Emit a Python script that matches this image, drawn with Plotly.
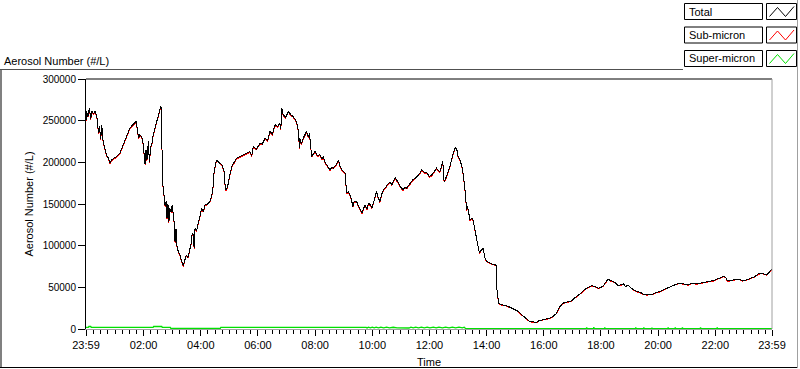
import plotly.graph_objects as go

# ---------------- data ----------------
times = [
    "23:59", "00:00", "00:03", "00:06", "00:09", "00:11", "00:15", "00:18", "00:21", "00:23",
    "00:25", "00:27", "00:30", "00:32", "00:35", "00:38", "00:42", "00:46", "00:49", "00:53",
    "00:56", "01:03", "01:10", "01:15", "01:21", "01:26", "01:31", "01:37", "01:44", "01:47",
    "01:49", "01:52", "01:56", "01:59", "02:01", "02:03", "02:05", "02:07", "02:10", "02:12",
    "02:15", "02:17", "02:20", "02:24", "02:28", "02:31", "02:34", "02:36", "02:38", "02:39",
    "02:41", "02:43", "02:45", "02:47", "02:49", "02:51", "02:53", "02:55", "02:58", "03:00",
    "03:02", "03:04", "03:06", "03:08", "03:10", "03:13", "03:16", "03:20", "03:23", "03:26",
    "03:30", "03:33", "03:37", "03:40", "03:42", "03:44", "03:46", "03:48", "03:51", "03:55",
    "03:58", "04:02", "04:05", "04:09", "04:14", "04:19", "04:22", "04:25", "04:28", "04:31",
    "04:33", "04:38", "04:44", "04:47", "04:49", "04:51", "04:53", "04:56", "04:58", "05:02",
    "05:05", "05:10", "05:15", "05:22", "05:29", "05:36", "05:43", "05:47", "05:50", "05:57",
    "06:04", "06:09", "06:15", "06:20", "06:25", "06:30", "06:36", "06:41", "06:46", "06:48",
    "06:50", "06:53", "06:58", "07:04", "07:09", "07:14", "07:18", "07:21", "07:25", "07:27",
    "07:28", "07:31", "07:35", "07:38", "07:42", "07:46", "07:48", "07:51", "07:53", "07:56",
    "08:00", "08:05", "08:10", "08:14", "08:17", "08:21", "08:24", "08:28", "08:31", "08:35",
    "08:38", "08:44", "08:49", "08:52", "08:56", "09:00", "09:03", "09:06", "09:10", "09:13",
    "09:16", "09:19", "09:22", "09:27", "09:31", "09:34", "09:38", "09:42", "09:45", "09:49",
    "09:52", "09:56", "09:59", "10:04", "10:09", "10:12", "10:16", "10:20", "10:23", "10:28",
    "10:34", "10:38", "10:41", "10:45", "10:48", "10:52", "10:55", "11:00", "11:05", "11:08",
    "11:12", "11:16", "11:19", "11:25", "11:30", "11:34", "11:37", "11:41", "11:44", "11:49",
    "11:54", "12:00", "12:05", "12:10", "12:15", "12:19", "12:22", "12:25", "12:28", "12:30",
    "12:31", "12:34", "12:36", "12:40", "12:43", "12:46", "12:49", "12:52", "12:55", "12:58",
    "13:00", "13:04", "13:08", "13:11", "13:15", "13:17", "13:18", "13:20", "13:22", "13:25",
    "13:29", "13:32", "13:35", "13:38", "13:41", "13:43", "13:45", "13:49", "13:53", "13:56",
    "14:00", "14:05", "14:11", "14:18", "14:20", "14:21", "14:23", "14:25", "14:32", "14:42",
    "14:53", "15:00", "15:07", "15:12", "15:17", "15:24", "15:31", "15:38", "15:45", "15:50",
    "15:59", "16:08", "16:17", "16:22", "16:27", "16:30", "16:34", "16:40", "16:45", "16:52",
    "16:59", "17:04", "17:09", "17:15", "17:20", "17:25", "17:30", "17:36", "17:41", "17:48",
    "17:54", "18:00", "18:05", "18:10", "18:15", "18:20", "18:26", "18:31", "18:36", "18:42",
    "18:47", "18:52", "18:57", "19:02", "19:08", "19:15", "19:22", "19:29", "19:36", "19:43",
    "19:50", "19:57", "20:04", "20:11", "20:18", "20:25", "20:32", "20:39", "20:46", "20:54",
    "21:03", "21:12", "21:21", "21:28", "21:35", "21:45", "21:56", "22:06", "22:17", "22:22",
    "22:25", "22:31", "22:40", "22:48", "22:57", "23:06", "23:15", "23:23", "23:30", "23:37",
    "23:42", "23:48", "23:53", "23:59",
]

total = [
    250000, 262000, 255000, 265000, 252000, 262000, 258000, 261000, 256000, 250000,
    235000, 243000, 228000, 245000, 225000, 218000, 209000, 205000, 199000, 203000,
    204000, 207000, 211000, 218000, 227000, 234000, 241000, 245000, 249000, 240000,
    229000, 233000, 231000, 222000, 205000, 198000, 215000, 203000, 225000, 200000,
    219000, 221000, 233000, 241000, 250000, 257000, 262000, 267000, 262000, 177000,
    170000, 161000, 148000, 153000, 133000, 150000, 128000, 145000, 140000, 149000,
    138000, 128000, 104000, 120000, 100000, 92000, 89000, 81000, 76000, 82000,
    89000, 86000, 97000, 103000, 115000, 113000, 97000, 121000, 118000, 129000,
    133000, 145000, 141000, 149000, 150000, 153000, 158000, 165000, 189000, 196000,
    203000, 200000, 197000, 193000, 189000, 172000, 167000, 170000, 177000, 188000,
    195000, 201000, 205000, 207000, 209000, 211000, 213000, 208000, 219000, 216000,
    223000, 222000, 229000, 226000, 237000, 234000, 245000, 243000, 247000, 240000,
    265000, 257000, 254000, 261000, 257000, 255000, 252000, 249000, 237000, 217000,
    229000, 222000, 229000, 233000, 237000, 230000, 235000, 217000, 207000, 210000,
    213000, 208000, 209000, 204000, 207000, 200000, 197000, 193000, 191000, 194000,
    193000, 197000, 203000, 196000, 191000, 189000, 187000, 163000, 165000, 161000,
    156000, 147000, 153000, 153000, 148000, 143000, 139000, 145000, 149000, 144000,
    151000, 149000, 145000, 155000, 165000, 158000, 153000, 162000, 167000, 170000,
    175000, 176000, 173000, 178000, 182000, 178000, 175000, 170000, 167000, 170000,
    169000, 172000, 175000, 179000, 181000, 183000, 185000, 188000, 191000, 188000,
    188000, 183000, 185000, 189000, 193000, 190000, 189000, 195000, 201000, 180000,
    177000, 181000, 183000, 190000, 195000, 203000, 211000, 215000, 218000, 214000,
    207000, 203000, 195000, 185000, 165000, 153000, 143000, 147000, 138000, 131000,
    133000, 130000, 120000, 111000, 103000, 95000, 91000, 95000, 97000, 86000,
    81000, 80000, 78000, 77000, 76000, 51000, 35000, 31000, 29000, 28000,
    25000, 23000, 21000, 18000, 15000, 12000, 9000, 8500, 8000, 10000,
    11000, 12500, 14000, 16000, 19000, 23000, 27000, 31000, 32000, 33000,
    34000, 37000, 39000, 42000, 44000, 47000, 49000, 51000, 52000, 51000,
    49000, 50000, 52000, 56000, 60000, 58000, 57000, 55000, 52000, 53000,
    54000, 51000, 53000, 50000, 47000, 45000, 44000, 42000, 41000, 42000,
    42000, 44000, 45000, 47000, 49000, 51000, 53000, 54000, 55000, 54000,
    53000, 55000, 54000, 55000, 56000, 57000, 58000, 60000, 63000, 62000,
    58000, 58000, 59000, 60000, 58000, 59000, 61000, 63000, 66000, 67000,
    66000, 65000, 68000, 72000,
]

sub_micron = [
    249000, 261000, 254000, 264000, 251000, 261000, 257000, 260000, 255000, 249000,
    234000, 242000, 227000, 244000, 224000, 217000, 208000, 204000, 198000, 202000,
    203000, 206000, 210000, 217000, 226000, 233000, 240000, 244000, 248000, 239000,
    228000, 232000, 230000, 221000, 204000, 197000, 214000, 202000, 224000, 199000,
    218000, 220000, 232000, 240000, 249000, 256000, 261000, 266000, 261000, 176000,
    169000, 160000, 147000, 152000, 132000, 149000, 127000, 144000, 139000, 148000,
    137000, 127000, 103000, 119000, 99000, 91000, 88000, 80000, 75000, 81000,
    88000, 85000, 96000, 102000, 114000, 112000, 96000, 120000, 117000, 128000,
    132000, 144000, 140000, 148000, 149000, 152000, 157000, 164000, 188000, 195000,
    202000, 199000, 196000, 192000, 188000, 171000, 166000, 169000, 176000, 187000,
    194000, 200000, 204000, 206000, 208000, 210000, 212000, 207000, 218000, 215000,
    222000, 221000, 228000, 225000, 236000, 233000, 244000, 242000, 246000, 239000,
    264000, 256000, 253000, 260000, 256000, 254000, 251000, 248000, 236000, 216000,
    228000, 221000, 228000, 232000, 236000, 229000, 234000, 216000, 206000, 209000,
    212000, 207000, 208000, 203000, 206000, 199000, 196000, 192000, 190000, 193000,
    192000, 196000, 202000, 195000, 190000, 188000, 186000, 162000, 164000, 160000,
    155000, 146000, 152000, 152000, 147000, 142000, 138000, 144000, 148000, 143000,
    150000, 148000, 144000, 154000, 164000, 157000, 152000, 161000, 166000, 169000,
    174000, 175000, 172000, 177000, 181000, 177000, 174000, 169000, 166000, 169000,
    168000, 171000, 174000, 178000, 180000, 182000, 184000, 187000, 190000, 187000,
    187000, 182000, 184000, 188000, 192000, 189000, 188000, 194000, 200000, 179000,
    176000, 180000, 182000, 189000, 194000, 202000, 210000, 214000, 217000, 213000,
    206000, 202000, 194000, 184000, 164000, 152000, 142000, 146000, 137000, 130000,
    132500, 129500, 119500, 110500, 102500, 94500, 90500, 94500, 96500, 85500,
    80500, 79500, 77500, 76500, 75500, 50500, 34500, 30500, 28500, 27500,
    24500, 22500, 20500, 17500, 14500, 11500, 8500, 8000, 7500, 9500,
    10500, 12000, 13500, 15500, 18500, 22500, 26500, 30500, 31500, 32500,
    33500, 36500, 38500, 41500, 43500, 46500, 48500, 50500, 51500, 50500,
    48500, 49500, 51500, 55500, 59500, 57500, 56500, 54500, 51500, 52500,
    53500, 50500, 52500, 49500, 46500, 44500, 43500, 41500, 40500, 41500,
    41500, 43500, 44500, 46500, 48500, 50500, 52500, 53500, 54500, 53500,
    52500, 54500, 53500, 54500, 55500, 56500, 57500, 59500, 62500, 61500,
    57500, 57500, 58500, 59500, 57500, 58500, 60500, 62500, 65500, 66500,
    65500, 64500, 67500, 71500,
]

super_times = [
    "23:59", "00:04", "00:05", "00:09", "00:10", "02:20", "02:21", "02:38", "02:39", "02:56",
    "02:57", "04:41", "04:42", "06:02", "06:04", "06:07", "06:24", "06:26", "06:29", "06:45",
    "06:47", "06:50", "09:47", "09:49", "09:52", "09:56", "10:00", "10:04", "10:08", "10:13",
    "10:18", "10:24", "10:30", "10:36", "10:44", "10:52", "10:58", "11:17", "11:21", "11:26",
    "11:31", "11:37", "11:43", "11:49", "11:55", "12:01", "12:08", "12:14", "12:20", "12:27",
    "12:34", "12:41", "12:48", "12:55", "13:02", "13:09", "13:13", "13:16", "17:29", "17:30",
    "17:31", "17:44", "17:45", "17:46", "18:07", "18:08", "18:09", "19:12", "19:13", "19:14",
    "19:29", "19:30", "19:31", "19:46", "19:47", "19:48", "20:20", "20:21", "20:22", "20:35",
    "20:36", "20:37", "20:50", "20:51", "20:52", "21:28", "21:29", "21:30", "22:03", "22:04",
    "22:05", "23:59",
]

super_micron = [
    2000, 2000, 3000, 3000, 2000, 2000, 3000, 3000, 2000, 2000,
    800, 800, 2000, 2000, 2600, 2000, 2000, 2600, 2000, 2000,
    2600, 2000, 2000, 1300, 2200, 1300, 2300, 1400, 2200, 1300,
    2300, 1400, 2200, 1300, 2100, 1300, 1200, 1200, 2200, 1400,
    2300, 1300, 2200, 1400, 2300, 1300, 2200, 1400, 2300, 1300,
    2200, 1400, 2300, 1300, 2200, 1400, 2200, 300, 300, 1800,
    300, 300, 2000, 300, 300, 1700, 300, 300, 1800, 300,
    300, 1700, 300, 300, 1600, 300, 300, 1900, 300, 300,
    1800, 300, 300, 1700, 300, 300, 1800, 300, 300, 1700,
    300, 300,
]

y_ticks = [0, 50000, 100000, 150000, 200000, 250000, 300000]
x_tick_labels = ["23:59", "02:00", "04:00", "06:00", "08:00", "10:00", "12:00",
                 "14:00", "16:00", "18:00", "20:00", "22:00", "23:59"]
legend_names = ["Total", "Sub-micron", "Super-micron"]
colors = ["#000000", "#ff0000", "#00e000"]

assert len(times) == len(total) == len(sub_micron)
assert len(super_times) == len(super_micron)


def to_dt(labels):
    out = []
    for i, t in enumerate(labels):
        day = "2000-01-01" if i == 0 else "2000-01-02"
        out.append(f"{day} {t}")
    return out


x_main = to_dt(times)
x_super = to_dt(super_times)
x_tickvals = to_dt(x_tick_labels)

fig = go.Figure()
fig.add_trace(go.Scatter(x=x_main, y=sub_micron, mode="lines", name="Sub-micron",
                         line=dict(color=colors[1], width=1)))
fig.add_trace(go.Scatter(x=x_main, y=total, mode="lines", name="Total",
                         line=dict(color=colors[0], width=1)))
fig.add_trace(go.Scatter(x=x_super, y=super_micron, mode="lines", name="Super-micron",
                         line=dict(color=colors[2], width=1.3)))

# ---------------- layout helpers (pixel -> paper) ----------------
L, R, T, B = 86, 772, 79, 329


def px(xp):
    return (xp - L) / (R - L)


def py(yp):
    return (B - yp) / (B - T)


shapes = []
# plot frame top (black) and right (gray)
shapes.append(dict(type="line", xref="paper", yref="paper", x0=0, x1=1, y0=1, y1=1,
                   line=dict(color="black", width=1)))
shapes.append(dict(type="line", xref="paper", yref="paper", x0=1, x1=1, y0=0, y1=1,
                   line=dict(color="#a0a0a0", width=1)))
# outer frame
shapes.append(dict(type="line", xref="paper", yref="paper", x0=px(1), x1=px(1),
                   y0=py(69), y1=py(368), line=dict(color="#808080", width=2)))
shapes.append(dict(type="line", xref="paper", yref="paper", x0=px(0), x1=px(683),
                   y0=py(69.5), y1=py(69.5), line=dict(color="#505050", width=1)))
shapes.append(dict(type="line", xref="paper", yref="paper", x0=px(0), x1=px(798),
                   y0=py(367.5), y1=py(367.5), line=dict(color="black", width=1)))
shapes.append(dict(type="line", xref="paper", yref="paper", x0=px(797.5), x1=px(797.5),
                   y0=py(0), y1=py(368), line=dict(color="#a0a0a0", width=1)))

annotations = []
row_tops = [3.5, 27, 50.5]
for name, col, yt in zip(legend_names, colors, row_tops):
    shapes.append(dict(type="rect", xref="paper", yref="paper",
                       x0=px(684.5), x1=px(762.5), y0=py(yt), y1=py(yt + 16),
                       line=dict(color="black", width=1), fillcolor="white"))
    shapes.append(dict(type="rect", xref="paper", yref="paper",
                       x0=px(766.5), x1=px(796.5), y0=py(yt), y1=py(yt + 16),
                       line=dict(color="black", width=1), fillcolor="white"))
    pts = [(769.5, yt + 13), (777.5, yt + 4), (785.5, yt + 13), (794, yt + 3)]
    path = "M " + " L ".join(f"{px(a)},{py(b)}" for a, b in pts)
    shapes.append(dict(type="path", xref="paper", yref="paper", path=path,
                       line=dict(color=col, width=1)))
    annotations.append(dict(text=name, xref="paper", yref="paper", x=px(686.5),
                            y=py(yt + 8), xanchor="left", yanchor="middle",
                            showarrow=False, font=dict(size=11, color="black")))

fig.update_layout(
    template="none",
    width=800, height=369, autosize=False,
    margin=dict(l=L, r=800 - R, t=T, b=369 - B, pad=0),
    paper_bgcolor="white", plot_bgcolor="white",
    font=dict(family="Liberation Sans, Arial, sans-serif", size=11, color="black"),
    showlegend=False,
    title=dict(text="Aerosol Number (#/L)", x=4 / 800, xref="container", xanchor="left",
               y=1 - 61 / 369, yref="container", yanchor="middle",
               font=dict(size=11, color="black")),
    shapes=shapes,
    annotations=annotations,
)

fig.update_xaxes(
    type="date",
    range=[x_tickvals[0], x_tickvals[-1]],
    tickmode="array", tickvals=x_tickvals, ticktext=x_tick_labels,
    ticks="outside", ticklen=6, tickcolor="black", tickwidth=1,
    minor=dict(ticks="outside", ticklen=4, tickcolor="black", tickwidth=1,
               dtick=15 * 60 * 1000, tick0="2000-01-02 00:00", showgrid=False),
    showline=True, linecolor="#a0a0a0", linewidth=1,
    showgrid=False, zeroline=False, automargin=False,
    tickfont=dict(size=11, color="black"),
    title=dict(text="Time", standoff=8, font=dict(size=11, color="black")),
)

fig.update_yaxes(
    range=[0, 300000],
    tickmode="array", tickvals=y_ticks, ticktext=[str(v) for v in y_ticks],
    ticks="outside", ticklen=7, tickcolor="black", tickwidth=1,
    showline=True, linecolor="black", linewidth=1,
    showgrid=False, zeroline=False, automargin=False,
    tickfont=dict(size=10, color="black"),
    title=dict(text="Aerosol Number (#/L)", standoff=6, font=dict(size=11, color="black")),
)

post = (
    "document.body.style.margin='0px';document.body.style.overflow='hidden';"
    "var tr=document.querySelectorAll('.scatterlayer .trace');"
    "for(var i=0;i<2&&i<tr.length;i++){tr[i].querySelectorAll('path.js-line').forEach(function(p){"
    "p.style.shapeRendering='crispEdges';});}"
)
fig.write_html("out.html", post_script=post, config={"staticPlot": True})
